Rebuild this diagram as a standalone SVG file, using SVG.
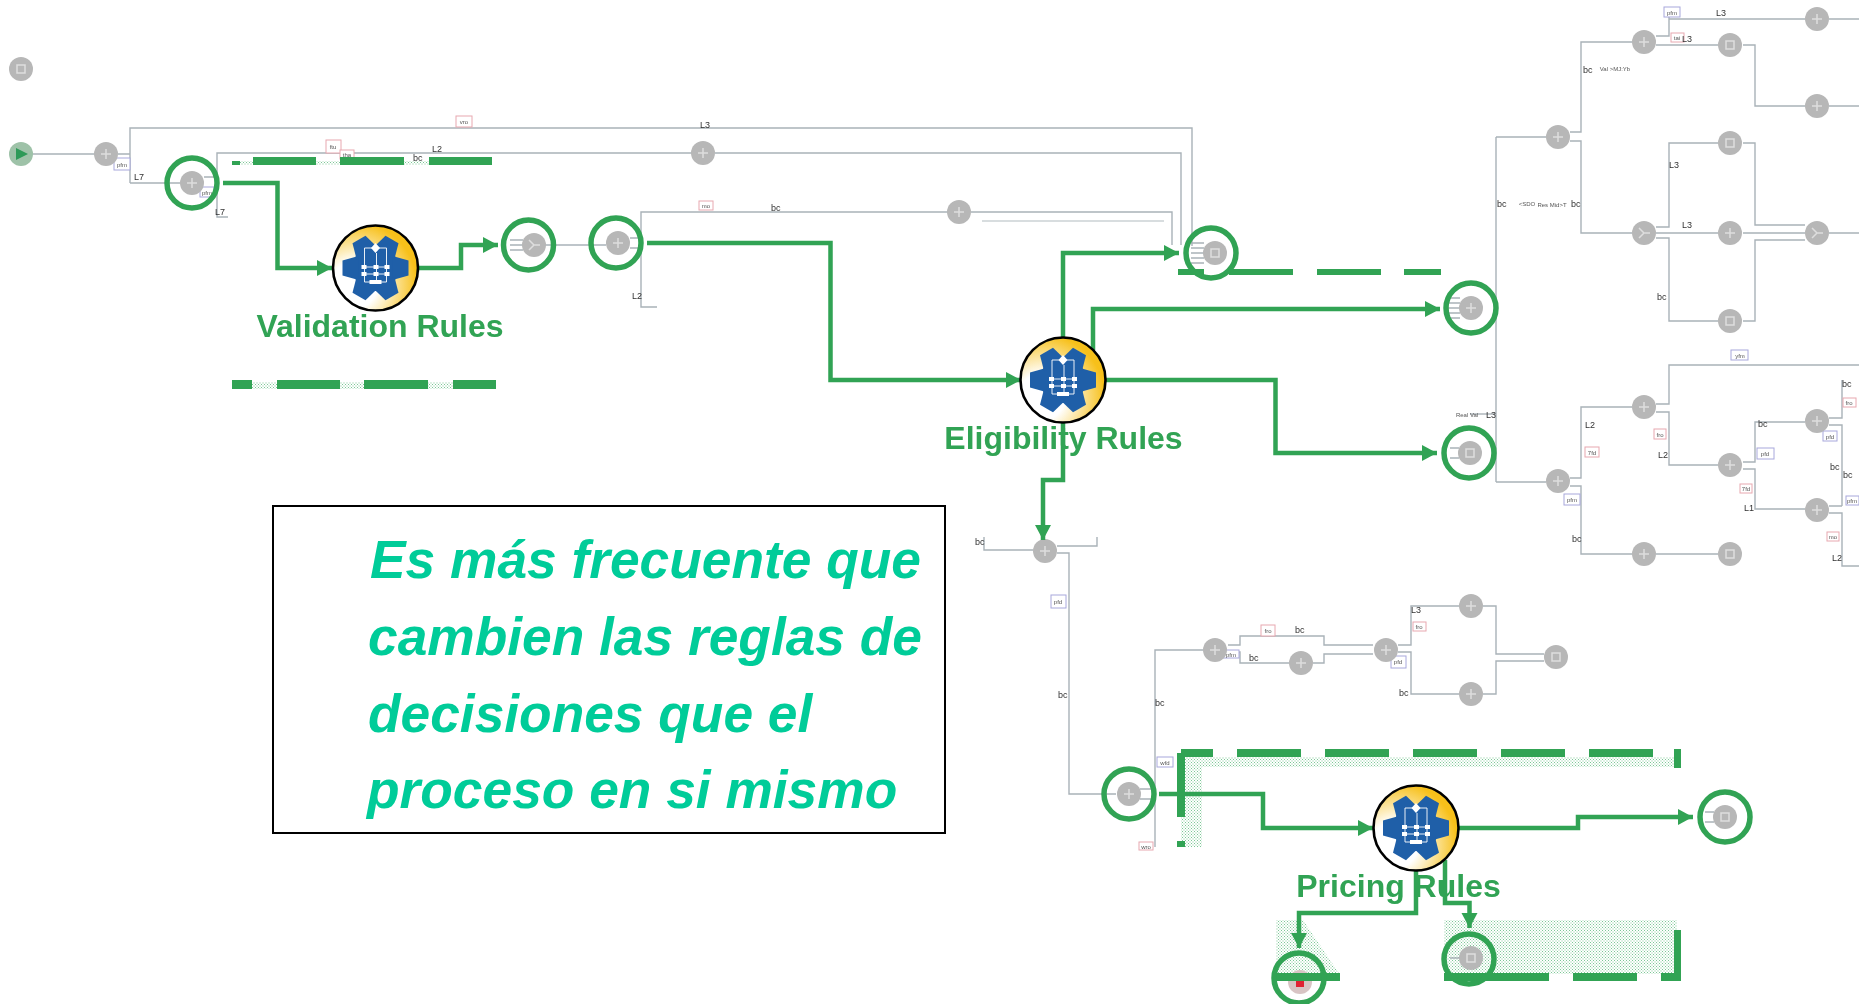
<svg xmlns="http://www.w3.org/2000/svg" xmlns:xlink="http://www.w3.org/1999/xlink" width="1859" height="1004" viewBox="0 0 1859 1004">
<style>
.w{fill:none;stroke:#a9b2b8;stroke-width:1.4}
.g{fill:none;stroke:#31a354;stroke-width:4.5}
.ring{fill:none;stroke:#31a354;stroke-width:5.5}
.n{fill:#b7b7b7}
.i{fill:none;stroke:#dedede;stroke-width:1.5}
.d{fill:#31a354}
.dith{fill:url(#dot)}
.lab{font-family:"Liberation Sans",Arial,sans-serif;font-size:32px;font-weight:700;fill:#31a354;text-anchor:middle}
.big{font-family:"Liberation Sans",Arial,sans-serif;font-size:53.3px;font-weight:700;font-style:italic;fill:#00cc99}
.s{font-family:"Liberation Sans",Arial,sans-serif;font-size:9px;fill:#333}
.x{font-family:"Liberation Sans",Arial,sans-serif;font-size:6px;fill:#555;text-anchor:middle}
.rb{fill:#fff;stroke:#e8a8b0;stroke-width:1}
.bb{fill:#fff;stroke:#a8a8dc;stroke-width:1}
</style>
<defs>
<filter id="soft" x="-5%" y="-5%" width="110%" height="110%"><feGaussianBlur stdDeviation="0.75"/></filter>
<pattern id="dot" width="3" height="3" patternUnits="userSpaceOnUse"><rect width="3" height="3" fill="#fff"/><rect width="1" height="1" fill="#7cc796"/><rect x="1.5" y="1.5" width="1" height="1" fill="#7cc796"/></pattern>
<marker id="ah" markerUnits="userSpaceOnUse" markerWidth="16" markerHeight="18" refX="15" refY="8" orient="auto"><path d="M0 0L15 8L0 16Z" fill="#31a354"/></marker>
<radialGradient id="gold" cx="0.25" cy="0.7" r="0.78"><stop offset="0.35" stop-color="#fff"/><stop offset="0.95" stop-color="#f7c01a"/></radialGradient>
<g id="tooth"><path d="M17-12L33-7.500V7.500L17 12Z" fill="#1f5fa8"/></g>
<g id="gear">
<ellipse rx="42.5" ry="42.5" fill="url(#gold)" stroke="#000" stroke-width="2.6"/>
<circle r="23" fill="#1f5fa8"/>
<use href="#tooth"/><use href="#tooth" transform="rotate(60)"/><use href="#tooth" transform="rotate(120)"/><use href="#tooth" transform="rotate(180)"/><use href="#tooth" transform="rotate(240)"/><use href="#tooth" transform="rotate(300)"/>
<path d="M0-25L4.500-20L0-15L-4.500-20Z" fill="#fff"/>
<path d="M-11-20H11V14H-11ZM-11-1H11M-11 6H11M1-15V14" fill="none" stroke="#fff" stroke-width="0.9"/>
<path d="M-14-3h5v4h-5zM-2-3h5v4h-5zM9-3h5v4h-5zM-14 4h5v4h-5zM-2 4h5v4h-5zM9 4h5v4h-5zM-6 12h12v4h-12z" fill="#fff"/>
</g>
<g id="g1"><circle class="n" r="12"/><path class="i" d="M-5 0H5M0-5V5"/></g>
<g id="g2"><circle class="n" r="12"/><rect class="i" x="-4" y="-4" width="8" height="8"/></g>
<g id="g3"><circle class="n" r="12"/><path class="i" d="M-5-5L0 0L-5 5M0 0H6"/></g>
</defs>
<rect width="1859" height="1004" fill="#fff"/>

<g id="dither">
<rect class="dith" x="240" y="161" width="252" height="4"/>
<rect class="dith" x="232" y="382" width="264" height="7"/>
<rect class="dith" x="1181" y="757" width="499" height="10"/>
<rect class="dith" x="1181" y="757" width="21" height="90"/>
<rect class="dith" x="1444" y="920" width="233" height="54"/>
<path class="dith" d="M1276 920H1303L1340 975H1276Z"/>
</g>

<g id="connectors-thin" filter="url(#soft)">
<path class="w" d="M21 154H95M118 154H130M130 183V128H1192V246M130 183H180M204 177H217V153H692M715 153H1181V245M204 190H217V217H228"/>
<path class="w" d="M541 245H606"/>
<path class="w" d="M630 238H641V212H948M971 212H1172V245M630 248H641V307H657"/>
<path class="w" stroke-opacity=".6" d="M982 221H1164"/>
<path class="w" d="M1496 137V482M1496 137H1546M1570 132H1581V42H1632M1570 141H1581V233H1632"/>
<path class="w" d="M1656 36H1669V19H1805M1656 45H1718M1829 19H1859M1669 19V8M1743 45H1755V106H1805M1829 106H1859"/>
<path class="w" d="M1656 227H1669V143H1718M1656 233H1718M1656 238H1669V321H1718M1743 143H1755V225H1805M1743 233H1805M1743 321H1755V240H1805M1829 233H1859"/>
<path class="w" d="M1496 482H1546M1570 478H1581V407H1632M1570 486H1581V554H1632M1656 554H1718"/>
<path class="w" d="M1656 404H1669V365H1859M1656 412H1669V465H1718M1743 462H1755V422H1805M1743 469H1755V509H1805M1829 418H1842V380M1829 425H1842V506M1829 506H1842M1829 513H1842V566H1859"/>
<path class="w" d="M1470 414H1496"/>
<path class="w" d="M984 537V550H1033M1097 537V546H1057M1057 553H1069V794H1116M1140 789H1155V650H1203M1140 799H1155V847"/>
<path class="w" d="M1228 645H1240V636H1324V645H1373M1228 652H1240V663H1289M1313 663H1324V654H1373M1398 645H1411V606H1459M1398 652H1411V694H1459M1483 606H1496V654H1544M1483 694H1496V661H1544"/>
<path class="w" d="M1450 448H1459M1450 458H1459M1448 298H1460M1448 303H1460M1448 308H1460M1448 313H1460M1448 318H1460"/>
<path class="w" d="M510 240H523M510 245H523M510 250H523M1191 243H1204M1191 248H1204M1191 253H1204M1191 258H1204M1191 263H1204M1705 812H1714M1705 822H1714M1450 958H1460"/>
</g>

<g id="small-labels" filter="url(#soft)">
<rect class="rb" x="456" y="116" width="16" height="11"/><text class="x" x="464" y="124">vro</text>
<rect class="rb" x="326" y="140" width="15" height="13"/><text class="x" x="333" y="149">ftu</text>
<rect class="rb" x="340" y="150" width="14" height="9"/><text class="x" x="347" y="157">tha</text>
<rect class="bb" x="114" y="158" width="16" height="12"/><text class="x" x="122" y="167">pfm</text>
<rect class="bb" x="200" y="187" width="14" height="10"/><text class="x" x="207" y="195">pfm</text>
<rect class="rb" x="699" y="201" width="14" height="9"/><text class="x" x="706" y="208">mo</text>
<text class="s" x="134" y="180">L7</text><text class="s" x="215" y="215">L7</text><text class="s" x="413" y="161">bc</text><text class="s" x="432" y="152">L2</text>
<text class="s" x="700" y="128">L3</text><text class="s" x="771" y="211">bc</text><text class="s" x="632" y="299">L2</text>
<rect class="bb" x="1664" y="7" width="16" height="10"/><text class="x" x="1672" y="15">pfm</text>
<rect class="rb" x="1671" y="33" width="13" height="9"/><text class="x" x="1677" y="40">tai</text>
<text class="s" x="1716" y="16">L3</text><text class="s" x="1682" y="42">L3</text>
<text class="s" x="1583" y="73">bc</text><text class="x" x="1615" y="71">Val &gt;MJ:Yb</text>
<text class="s" x="1497" y="207">bc</text><text class="x" x="1527" y="206">&lt;SDO</text><text class="x" x="1552" y="207">Res Mid&gt;T</text><text class="s" x="1571" y="207">bc</text>
<text class="s" x="1669" y="168">L3</text><text class="s" x="1682" y="228">L3</text><text class="s" x="1657" y="300">bc</text>
<text class="x" x="1467" y="417">Real Val</text><text class="s" x="1486" y="418">L3</text>
<text class="s" x="1585" y="428">L2</text>
<rect class="rb" x="1585" y="447" width="14" height="10"/><text class="x" x="1592" y="455">7fd</text>
<rect class="bb" x="1564" y="494" width="16" height="11"/><text class="x" x="1572" y="502">pfm</text>
<text class="s" x="1572" y="542">bc</text>
<rect class="bb" x="1731" y="350" width="17" height="10"/><text class="x" x="1740" y="358">yfm</text>
<rect class="rb" x="1654" y="429" width="12" height="10"/><text class="x" x="1660" y="437">fro</text>
<text class="s" x="1658" y="458">L2</text>
<rect class="bb" x="1757" y="448" width="17" height="11"/><text class="x" x="1765" y="456">pfd</text>
<text class="s" x="1758" y="427">bc</text>
<rect class="rb" x="1740" y="484" width="12" height="9"/><text class="x" x="1746" y="491">7fd</text>
<text class="s" x="1744" y="511">L1</text>
<text class="s" x="1842" y="387">bc</text>
<rect class="rb" x="1843" y="398" width="13" height="9"/><text class="x" x="1849" y="405">fro</text>
<rect class="bb" x="1823" y="431" width="14" height="10"/><text class="x" x="1830" y="439">pfd</text>
<text class="s" x="1830" y="470">bc</text><text class="s" x="1843" y="478">bc</text>
<rect class="bb" x="1846" y="496" width="13" height="9"/><text class="x" x="1852" y="503">pfm</text>
<rect class="rb" x="1827" y="532" width="12" height="9"/><text class="x" x="1833" y="539">mo</text>
<text class="s" x="1832" y="561">L2</text>
<text class="s" x="975" y="545">bc</text>
<rect class="bb" x="1051" y="595" width="15" height="13"/><text class="x" x="1058" y="604">pfd</text>
<text class="s" x="1058" y="698">bc</text><text class="s" x="1155" y="706">bc</text>
<rect class="bb" x="1157" y="757" width="16" height="10"/><text class="x" x="1165" y="765">wfd</text>
<rect class="rb" x="1139" y="842" width="14" height="8"/><text class="x" x="1146" y="849">wro</text>
<rect class="rb" x="1261" y="625" width="14" height="11"/><text class="x" x="1268" y="633">fro</text>
<text class="s" x="1295" y="633">bc</text>
<rect class="bb" x="1223" y="650" width="16" height="8"/><text class="x" x="1231" y="657">pfm</text>
<text class="s" x="1249" y="661">bc</text>
<text class="s" x="1411" y="613">L3</text>
<rect class="rb" x="1413" y="622" width="13" height="9"/><text class="x" x="1419" y="629">fro</text>
<rect class="bb" x="1391" y="656" width="15" height="12"/><text class="x" x="1398" y="664">pfd</text>
<text class="s" x="1399" y="696">bc</text>
</g>

<g id="nodes-process" filter="url(#soft)">
<g id="stop" transform="translate(21 69)"><use href="#g2"/></g>
<g id="start" transform="translate(21 154)"><circle r="12" fill="#9ec2a8"/><path d="M-5-6L7 0L-5 6Z" fill="#2d9a58"/></g>
<g id="p1" transform="translate(106 154)"><use href="#g1"/></g>
<g id="p2" transform="translate(192 183)"><use href="#g1"/></g>
<g id="p3" transform="translate(703 153)"><use href="#g1"/></g>
<g id="p4" transform="translate(534 245)"><use href="#g3"/></g>
<g id="p5" transform="translate(618 243)"><use href="#g1"/></g>
<g id="p6" transform="translate(959 212)"><use href="#g1"/></g>
<g id="p7" transform="translate(1215 253)"><use href="#g2"/></g>
<g id="p8" transform="translate(1471 308)"><use href="#g1"/></g>
<g id="p9" transform="translate(1470 453)"><use href="#g2"/></g>
<g id="p10" transform="translate(1558 137)"><use href="#g1"/></g>
<g id="p11" transform="translate(1644 42)"><use href="#g1"/></g>
<g id="p12" transform="translate(1644 233)"><use href="#g3"/></g>
<g id="p13" transform="translate(1817 19)"><use href="#g1"/></g>
<g id="p14" transform="translate(1730 45)"><use href="#g2"/></g>
<g id="p15" transform="translate(1817 106)"><use href="#g1"/></g>
<g id="p16" transform="translate(1730 143)"><use href="#g2"/></g>
<g id="p17" transform="translate(1730 233)"><use href="#g1"/></g>
<g id="p18" transform="translate(1730 321)"><use href="#g2"/></g>
<g id="p19" transform="translate(1817 233)"><use href="#g3"/></g>
<g id="p20" transform="translate(1558 481)"><use href="#g1"/></g>
<g id="p21" transform="translate(1644 407)"><use href="#g1"/></g>
<g id="p22" transform="translate(1644 554)"><use href="#g1"/></g>
<g id="p23" transform="translate(1730 554)"><use href="#g2"/></g>
<g id="p24" transform="translate(1730 465)"><use href="#g1"/></g>
<g id="p25" transform="translate(1817 421)"><use href="#g1"/></g>
<g id="p26" transform="translate(1817 510)"><use href="#g1"/></g>
<g id="p27" transform="translate(1045 551)"><use href="#g1"/></g>
<g id="p28" transform="translate(1129 794)"><use href="#g1"/></g>
<g id="p29" transform="translate(1215 650)"><use href="#g1"/></g>
<g id="p30" transform="translate(1301 663)"><use href="#g1"/></g>
<g id="p31" transform="translate(1386 650)"><use href="#g1"/></g>
<g id="p32" transform="translate(1471 606)"><use href="#g1"/></g>
<g id="p33" transform="translate(1471 694)"><use href="#g1"/></g>
<g id="p34" transform="translate(1556 657)"><use href="#g2"/></g>
<g id="p35" transform="translate(1725 817)"><use href="#g2"/></g>
<g id="p36" transform="translate(1471 958)"><use href="#g2"/></g>
<g id="p37" transform="translate(1300 982)"><circle r="12" fill="#d8c4c4"/><rect x="-4" y="-5" width="8" height="10" fill="#e02030"/></g>
</g>

<g id="dashes">
<rect class="d" x="232" y="161" width="8" height="4"/><rect class="d" x="253" y="157" width="63" height="8"/><rect class="d" x="340" y="157" width="64" height="8"/><rect class="d" x="429" y="157" width="63" height="8"/>
<rect class="d" x="232" y="380" width="20" height="9"/><rect class="d" x="277" y="380" width="63" height="9"/><rect class="d" x="364" y="380" width="64" height="9"/><rect class="d" x="453" y="380" width="43" height="9"/>
<rect class="d" x="1178" y="269" width="26" height="6"/><rect class="d" x="1229" y="269" width="64" height="6"/><rect class="d" x="1317" y="269" width="64" height="6"/><rect class="d" x="1404" y="269" width="37" height="6"/>
<rect class="d" x="1181" y="749" width="32" height="8"/><rect class="d" x="1237" y="749" width="64" height="8"/><rect class="d" x="1325" y="749" width="64" height="8"/><rect class="d" x="1413" y="749" width="64" height="8"/><rect class="d" x="1501" y="749" width="64" height="8"/><rect class="d" x="1589" y="749" width="64" height="8"/><rect class="d" x="1674" y="749" width="7" height="19"/>
<rect class="d" x="1177" y="753" width="8" height="64"/><rect class="d" x="1177" y="841" width="8" height="6"/>
<rect class="d" x="1444" y="973" width="105" height="8"/><rect class="d" x="1573" y="973" width="64" height="8"/><rect class="d" x="1661" y="973" width="19" height="8"/><rect class="d" x="1674" y="930" width="7" height="51"/>
<rect class="d" x="1274" y="973" width="66" height="8"/>
</g>

<g id="connectors">
<path class="g" marker-end="url(#ah)" d="M223 183H277.500V268H332"/>
<path class="g" marker-end="url(#ah)" d="M418 268H461V245H498"/>
<path class="g" marker-end="url(#ah)" d="M647 243H830.500V380H1021"/>
<path class="g" marker-end="url(#ah)" d="M1063 338V253H1179"/>
<path class="g" marker-end="url(#ah)" d="M1093 350V309H1440"/>
<path class="g" marker-end="url(#ah)" d="M1105 380H1275.500V453H1437"/>
<path class="g" marker-end="url(#ah)" d="M1063 423V480H1043V540"/>
<path class="g" marker-end="url(#ah)" d="M1159 794H1263V828H1373"/>
<path class="g" marker-end="url(#ah)" d="M1458 828H1578V817H1693"/>
<path class="g" marker-end="url(#ah)" d="M1416 870V913H1299V948"/>
<path class="g" marker-end="url(#ah)" d="M1445 860V903H1469.500V928"/>
</g>

<g id="rings">
<circle class="ring" cx="192" cy="183" r="25"/>
<circle class="ring" cx="528.500" cy="245" r="25"/>
<circle class="ring" cx="616" cy="243" r="25"/>
<circle class="ring" cx="1211" cy="253" r="25"/>
<circle class="ring" cx="1471" cy="308" r="25"/>
<circle class="ring" cx="1469" cy="453" r="25"/>
<circle class="ring" cx="1129" cy="794" r="25"/>
<circle class="ring" cx="1725" cy="817" r="25"/>
<circle class="ring" cx="1469" cy="959" r="25"/>
<circle class="ring" cx="1299" cy="978" r="25"/>
</g>

<g id="validation-rules"><use href="#gear" transform="translate(375.500 268)"/><text class="lab" x="380" y="337">Validation Rules</text></g>
<g id="eligibility-rules"><use href="#gear" transform="translate(1063 380)"/><text class="lab" x="1063.500" y="449">Eligibility Rules</text></g>
<g id="pricing-rules"><use href="#gear" transform="translate(1416 828)"/><text class="lab" x="1398.500" y="897">Pricing Rules</text></g>

<g id="note">
<rect x="273" y="506" width="672" height="327" fill="#fff" stroke="#000" stroke-width="2"/>
<text class="big" x="370" y="578">Es más frecuente que</text>
<text class="big" x="368" y="655">cambien las reglas de</text>
<text class="big" x="368" y="732">decisiones que el</text>
<text class="big" x="367" y="808">proceso en si mismo</text>
</g>
</svg>
